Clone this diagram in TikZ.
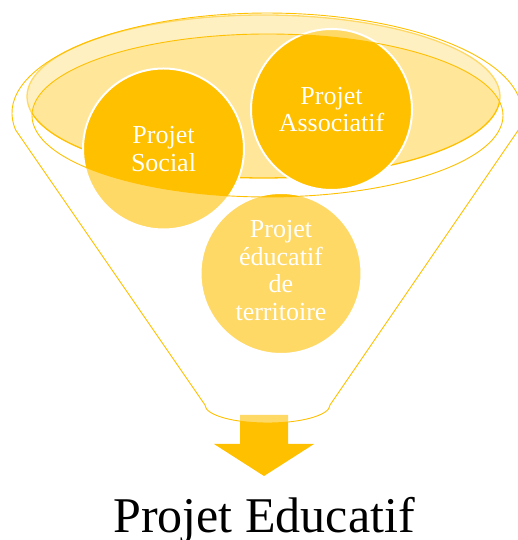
\documentclass[tikz,border=0pt]{standalone}
\usepackage{fontspec}
\setmainfont{Liberation Serif}
\definecolor{gold}{RGB}{255,192,0}
\begin{document}
\begin{tikzpicture}[x=1pt,y=1pt,
  circ/.style={circle, fill=gold, draw=white, line width=2pt, minimum size=161pt, inner sep=0pt},
  ctext/.style={text=white, font=\fontsize{26}{27.5}\selectfont, align=center, inner sep=0pt},
  rim/.style={draw=gold, line width=0.9pt},
]
\useasboundingbox (0,0) rectangle (518,540);
% back filled ellipse
\path[fill=gold, fill opacity=0.4, draw=gold, line width=1.3pt]
  (263.5,443.5) ellipse [x radius=236.5, y radius=81.5];
% circles
\node[circ] (social) at (163.5,391) {};
\node[circ] (assoc) at (331.5,430.5) {};
\node[circ] (edu) at (281,266.5) {};
% down arrow
\fill[gold] (240,125) -- (288,125) -- (288,96) -- (314,96) -- (264,64)
  -- (214,96) -- (240,96) -- cycle;
% funnel veil
\fill[white, fill opacity=0.4, even odd rule]
  (15.9,409.6) -- (205,135) arc[start angle=180, end angle=360, x radius=62.5, y radius=18]
  -- (518.1,409.6) arc[start angle=-10, end angle=190, x radius=255, y radius=100] -- cycle
  (267.5,424.5) ellipse [x radius=235.5, y radius=81.5];
% funnel outlines
\draw[rim] (15.9,409.6) -- (205,135) arc[start angle=180, end angle=360, x radius=62.5, y radius=18]
  -- (518.1,409.6) arc[start angle=-10, end angle=190, x radius=255, y radius=100] -- cycle;
\draw[rim] (267.5,424.5) ellipse [x radius=235.5, y radius=81.5];
% texts
\node[ctext] (socialtxt) at (social.center) {Projet\\Social};
\node[ctext] (assoctxt) at (assoc.center) {Projet\\Associatif};
\node[ctext] (edutxt) at ([yshift=3pt]edu.center) {Projet\\éducatif\\de\\territoire};
\node[font=\fontsize{50}{60}\selectfont, anchor=base, inner sep=0pt] (title) at (264,7) {Projet Educatif};
\end{tikzpicture}
\end{document}
